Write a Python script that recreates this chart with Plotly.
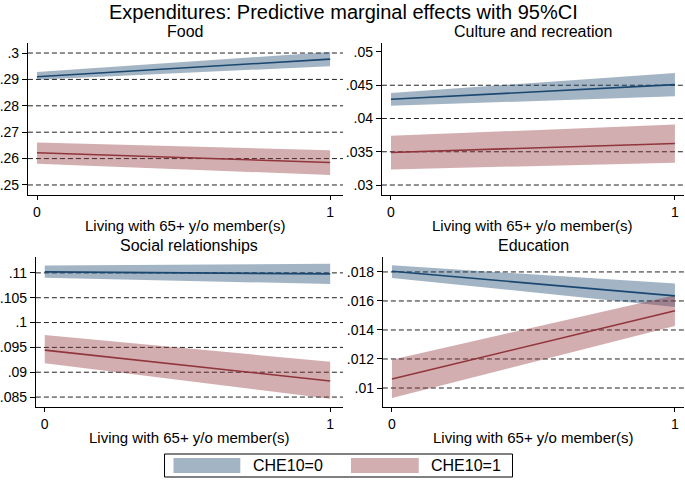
import plotly.graph_objects as go

# ---------------- data ----------------
x_vals = [0, 1]
x_title = "Living with 65+ y/o member(s)"
panel_titles = ["Food", "Culture and recreation", "Social relationships", "Education"]
main_title = "Expenditures: Predictive marginal effects with 95%CI"
legend_labels = ["CHE10=0", "CHE10=1"]

# point estimate, lower, upper at x=0 and x=1 (b = CHE10=0, r = CHE10=1)
food_b = [0.2910, 0.2977]
food_b_lo = [0.2899, 0.2950]
food_b_hi = [0.2928, 0.3004]
food_r = [0.2622, 0.2585]
food_r_lo = [0.2580, 0.2538]
food_r_hi = [0.2661, 0.2632]

cult_b = [0.0429, 0.0451]
cult_b_lo = [0.0419, 0.04335]
cult_b_hi = [0.04385, 0.04685]
cult_r = [0.0349, 0.03625]
cult_r_lo = [0.03235, 0.03335]
cult_r_hi = [0.0374, 0.0391]

soc_b = [0.1102, 0.1098]
soc_b_lo = [0.1090, 0.10777]
soc_b_hi = [0.11149, 0.11182]
soc_r = [0.09446, 0.08824]
soc_r_lo = [0.0918, 0.08466]
soc_r_hi = [0.0975, 0.0921]

edu_b = [0.01805, 0.01635]
edu_b_lo = [0.01759, 0.01558]
edu_b_hi = [0.01846, 0.0172]
edu_r = [0.01062, 0.01533]
edu_r_lo = [0.00931, 0.01427]
edu_r_hi = [0.01194, 0.0164]

food_ticks = [0.25, 0.26, 0.27, 0.28, 0.29, 0.30]
food_ticklabels = [".25", ".26", ".27", ".28", ".29", ".3"]
food_grid = [0.25, 0.26, 0.27, 0.28, 0.29, 0.30]
cult_ticks = [0.03, 0.035, 0.04, 0.045, 0.05]
cult_ticklabels = [".03", ".035", ".04", ".045", ".05"]
cult_grid = [0.03, 0.035, 0.04, 0.045]
soc_ticks = [0.085, 0.09, 0.095, 0.10, 0.105, 0.11]
soc_ticklabels = [".085", ".09", ".095", ".1", ".105", ".11"]
soc_grid = [0.085, 0.09, 0.095, 0.10, 0.105, 0.11]
edu_ticks = [0.010, 0.012, 0.014, 0.016, 0.018]
edu_ticklabels = [".01", ".012", ".014", ".016", ".018"]
edu_grid = [0.010, 0.012, 0.014, 0.016, 0.018]

# ---------------- styling ----------------
W, H = 685, 488
FONT = "Liberation Sans, Arial, sans-serif"
BLUE_LINE = "#1a476f"
RED_LINE = "#90353b"
BLUE_FILL = "rgba(26,71,111,0.40)"
RED_FILL = "rgba(144,53,59,0.40)"

panels = [
    dict(px=(26, 342, 43, 195), yr=(0.2462, 0.3038), xr=(-0.031, 1.044),
         data=(food_b, food_b_lo, food_b_hi, food_r, food_r_lo, food_r_hi),
         ticks=food_ticks, labels=food_ticklabels, grid=food_grid),
    dict(px=(381, 684, 43, 195), yr=(0.0285, 0.05135), xr=(-0.032, 1.032),
         data=(cult_b, cult_b_lo, cult_b_hi, cult_r, cult_r_lo, cult_r_hi),
         ticks=cult_ticks, labels=cult_ticklabels, grid=cult_grid),
    dict(px=(34, 342, 257, 407), yr=(0.0830, 0.1132), xr=(-0.031, 1.045),
         data=(soc_b, soc_b_lo, soc_b_hi, soc_r, soc_r_lo, soc_r_hi),
         ticks=soc_ticks, labels=soc_ticklabels, grid=soc_grid),
    dict(px=(382, 684, 257, 407), yr=(0.00869, 0.01903), xr=(-0.032, 1.032),
         data=(edu_b, edu_b_lo, edu_b_hi, edu_r, edu_r_lo, edu_r_hi),
         ticks=edu_ticks, labels=edu_ticklabels, grid=edu_grid),
]

fig = go.Figure()
shapes = []
annotations = []
layout_axes = {}

for i, p in enumerate(panels):
    n = "" if i == 0 else str(i + 1)
    xa, ya = "x" + n, "y" + n
    b, blo, bhi, r, rlo, rhi = p["data"]
    for lo, hi, fc in [(blo, bhi, BLUE_FILL), (rlo, rhi, RED_FILL)]:
        fig.add_trace(go.Scatter(
            x=x_vals + x_vals[::-1], y=lo + hi[::-1], fill="toself", fillcolor=fc,
            line=dict(width=0), mode="lines", hoverinfo="skip", showlegend=False,
            xaxis=xa, yaxis=ya))
    for est, lc in [(b, BLUE_LINE), (r, RED_LINE)]:
        fig.add_trace(go.Scatter(
            x=x_vals, y=est, mode="lines", line=dict(color=lc, width=1.6),
            showlegend=False, xaxis=xa, yaxis=ya))

    l, rr, t, bt = p["px"]
    xdom = [l / W, rr / W]
    ydom = [1 - bt / H, 1 - t / H]
    layout_axes["xaxis" + n] = dict(
        domain=xdom, range=list(p["xr"]), tickvals=x_vals, ticktext=["0", "1"],
        ticks="outside", ticklen=4, tickcolor="black", showline=True, linecolor="black",
        linewidth=1, showgrid=False, zeroline=False, anchor=ya,
        tickfont=dict(size=14, color="black", family=FONT),
    )
    layout_axes["yaxis" + n] = dict(
        domain=ydom, range=list(p["yr"]), tickvals=p["ticks"], ticktext=p["labels"],
        ticks="outside", ticklen=5, tickcolor="black", showline=True, linecolor="black",
        linewidth=1, showgrid=False, zeroline=False, anchor=xa,
        tickfont=dict(size=14, color="black", family=FONT),
    )
    for g in p["grid"]:
        shapes.append(dict(type="line", xref=xa + " domain", yref=ya, x0=0, x1=1, y0=g, y1=g,
                           line=dict(color="#222222", width=1, dash="5px,3px"), layer="below"))
    annotations.append(dict(text=panel_titles[i], x=(xdom[0] + xdom[1]) / 2, y=1 - (t - 11) / H,
                            xref="paper", yref="paper", showarrow=False, xanchor="center",
                            yanchor="middle", font=dict(size=16, color="black", family=FONT)))
    annotations.append(dict(text=x_title, x=0.5, y=1 - (bt + 30) / H,
                            xref=xa + " domain", yref="paper", showarrow=False, xanchor="center",
                            yanchor="middle", font=dict(size=15, color="black", family=FONT)))

annotations.append(dict(text=main_title, x=342 / W, y=1 - 12 / H, xref="paper", yref="paper",
                        showarrow=False, xanchor="center", yanchor="middle",
                        font=dict(size=20, color="black", family=FONT)))

# legend box
shapes.append(dict(type="rect", xref="paper", yref="paper", x0=163 / W, x1=512 / W,
                   y0=1 - 477 / H, y1=1 - 454 / H, line=dict(color="black", width=1),
                   fillcolor="white"))
for (sx0, sx1, tx, fc, lab) in [(172, 239, 250, BLUE_FILL, legend_labels[0]),
                                (350, 418, 428, RED_FILL, legend_labels[1])]:
    shapes.append(dict(type="rect", xref="paper", yref="paper", x0=sx0 / W, x1=sx1 / W,
                       y0=1 - 473 / H, y1=1 - 458 / H, line=dict(width=0), fillcolor=fc))
    annotations.append(dict(text=lab, x=tx / W, y=1 - 465.5 / H, xref="paper", yref="paper",
                            showarrow=False, xanchor="left", yanchor="middle",
                            font=dict(size=16, color="black", family=FONT)))

fig.update_layout(
    width=W, height=H, margin=dict(l=0, r=0, t=0, b=0),
    paper_bgcolor="white", plot_bgcolor="white",
    shapes=shapes, annotations=annotations, showlegend=False,
    font=dict(family=FONT, color="black"),
    **layout_axes,
)

fig.write_html("out.html", config={"displayModeBar": False},
               post_script="document.body.style.margin='0';document.body.style.overflow='hidden';")
